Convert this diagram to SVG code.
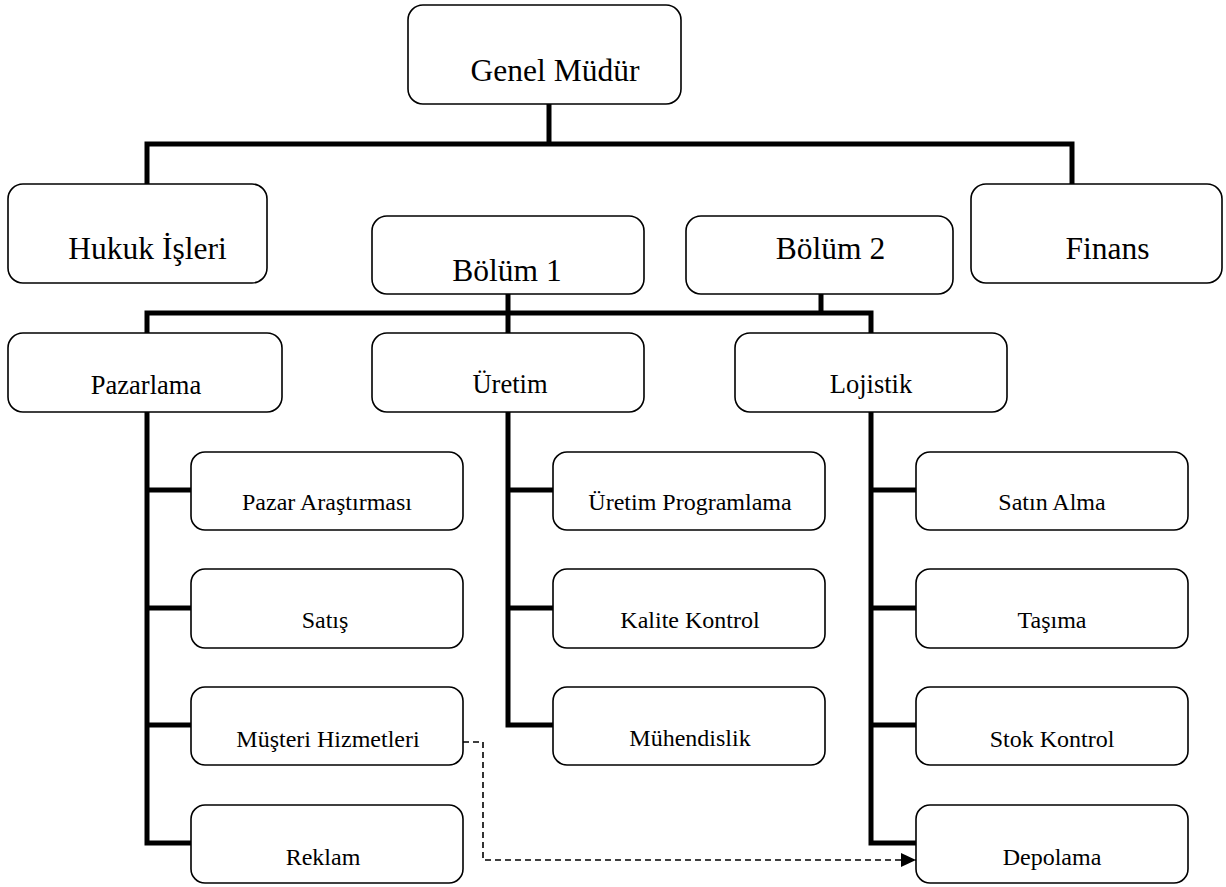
<svg xmlns="http://www.w3.org/2000/svg" width="1226" height="887" viewBox="0 0 1226 887">
<style>
.box{fill:#fff;stroke:#000;stroke-width:1.6}
.t{font-family:"Liberation Serif","Times New Roman",serif;fill:#000;text-anchor:middle}
.l{font-size:31.5px}
.m{font-size:26.5px}
.s{font-size:24px}
.c{fill:none;stroke:#000;stroke-width:5;stroke-linejoin:miter;stroke-linecap:butt}
.d{fill:none;stroke:#000;stroke-width:1.6;stroke-dasharray:6,4}
</style>
<defs>
<marker id="ah" markerWidth="16" markerHeight="14" refX="15" refY="7" orient="auto" markerUnits="userSpaceOnUse">
<path d="M0,0 L15,7 L0,14 Z" fill="#000"/>
</marker>
</defs>
<rect width="1226" height="887" fill="#fff"/>
<g id="connectors">
<path class="c" d="M549,104 V144"/>
<path class="c" d="M147,184 V144 H1072 V184"/>
<path class="c" d="M508,294 V333"/>
<path class="c" d="M821,294 V313"/>
<path class="c" d="M147,333 V313 H871 V333"/>
<path class="c" d="M147,412 V843 H191 M147,490 H191 M147,608 H191 M147,725 H191"/>
<path class="c" d="M508,412 V725 H553 M508,490 H553 M508,608 H553"/>
<path class="c" d="M871,412 V843 H916 M871,490 H916 M871,608 H916 M871,725 H916"/>
<path class="d" d="M463,742 H483 V860 H916" marker-end="url(#ah)"/>
</g>
<g id="genel-mudur"><rect class="box" x="408" y="5" width="273" height="99" rx="15"/><text class="t l" x="555" y="81">Genel Müdür</text></g>
<g id="hukuk"><rect class="box" x="8" y="184" width="259" height="99" rx="15"/><text class="t l" x="147.5" y="259">Hukuk İşleri</text></g>
<g id="bolum1"><rect class="box" x="372" y="216" width="272" height="78" rx="15"/><text class="t l" x="507" y="281">Bölüm 1</text></g>
<g id="bolum2"><rect class="box" x="686" y="216" width="267" height="78" rx="15"/><text class="t l" x="830.5" y="259">Bölüm 2</text></g>
<g id="finans"><rect class="box" x="971" y="184" width="251" height="99" rx="15"/><text class="t l" x="1107.5" y="259">Finans</text></g>
<g id="pazarlama"><rect class="box" x="8" y="333" width="274" height="79" rx="15"/><text class="t m" x="146" y="394">Pazarlama</text></g>
<g id="uretim"><rect class="box" x="372" y="333" width="272" height="79" rx="15"/><text class="t m" x="510" y="393">Üretim</text></g>
<g id="lojistik"><rect class="box" x="735" y="333" width="272" height="79" rx="15"/><text class="t m" x="871" y="393">Lojistik</text></g>
<g id="pazar-arastirmasi"><rect class="box" x="191" y="452" width="272" height="78" rx="14"/><text class="t s" x="327" y="510">Pazar Araştırması</text></g>
<g id="satis"><rect class="box" x="191" y="569" width="272" height="79" rx="14"/><text class="t s" x="325" y="628">Satış</text></g>
<g id="musteri"><rect class="box" x="191" y="687" width="272" height="78" rx="14"/><text class="t s" x="328" y="747">Müşteri Hizmetleri</text></g>
<g id="reklam"><rect class="box" x="191" y="805" width="272" height="78" rx="14"/><text class="t s" x="323" y="865">Reklam</text></g>
<g id="uretim-programlama"><rect class="box" x="553" y="452" width="272" height="78" rx="14"/><text class="t s" x="690" y="510">Üretim Programlama</text></g>
<g id="kalite"><rect class="box" x="553" y="569" width="272" height="79" rx="14"/><text class="t s" x="690" y="628">Kalite Kontrol</text></g>
<g id="muhendislik"><rect class="box" x="553" y="687" width="272" height="78" rx="14"/><text class="t s" x="690" y="746">Mühendislik</text></g>
<g id="satin-alma"><rect class="box" x="916" y="452" width="272" height="78" rx="14"/><text class="t s" x="1052" y="510">Satın Alma</text></g>
<g id="tasima"><rect class="box" x="916" y="569" width="272" height="79" rx="14"/><text class="t s" x="1052" y="628">Taşıma</text></g>
<g id="stok"><rect class="box" x="916" y="687" width="272" height="78" rx="14"/><text class="t s" x="1052" y="747">Stok Kontrol</text></g>
<g id="depolama"><rect class="box" x="916" y="805" width="272" height="78" rx="14"/><text class="t s" x="1052" y="865">Depolama</text></g>
</svg>
